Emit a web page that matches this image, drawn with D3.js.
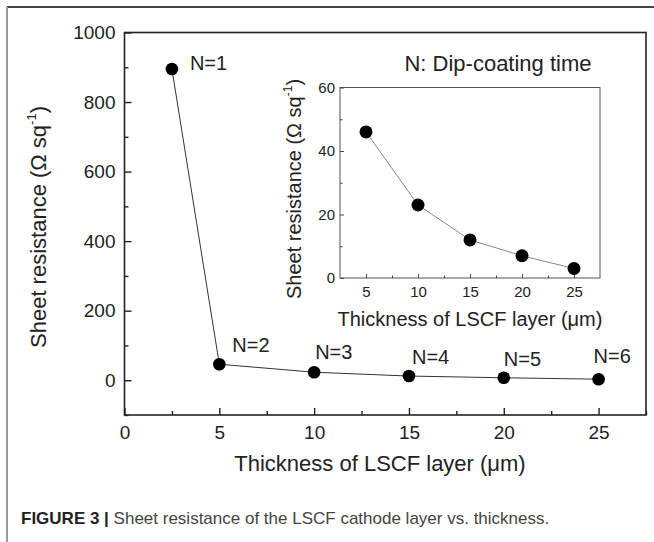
<!DOCTYPE html>
<html>
<head>
<meta charset="utf-8">
<script src="https://cdn.jsdelivr.net/npm/d3@7"></script>
<style>
  body { margin: 0; background: #fff; }
  svg { display: block; font-family: "Liberation Sans", Arial, sans-serif; }
  .tick text { fill: #222; }
</style>
</head>
<body>
<div id="chart"></div>
<script>
// main plot data
var thickness = [2.5, 5, 10, 15, 20, 25];
var resistance = [895, 46, 23, 12, 7, 3];
var pointLabels = ["N=1", "N=2", "N=3", "N=4", "N=5", "N=6"];
// inset data
var insetThickness = [5, 10, 15, 20, 25];
var insetResistance = [46, 23, 12, 7, 3];

var xTicks = [0, 5, 10, 15, 20, 25];
var yTicks = [0, 200, 400, 600, 800, 1000];
var insetXTicks = [5, 10, 15, 20, 25];
var insetYTicks = [0, 20, 40, 60];

var W = 654, H = 542;
var svg = d3.select("#chart").append("svg").attr("width", W).attr("height", H);

// outer frame (top and left only)
svg.append("line").attr("x1", 7).attr("y1", 7).attr("x2", W).attr("y2", 7)
   .attr("stroke", "#444").attr("stroke-width", 2);
svg.append("line").attr("x1", 7).attr("y1", 7).attr("x2", 7).attr("y2", H)
   .attr("stroke", "#999").attr("stroke-width", 2);

// ---- main plot ----
var m = {left: 124.5, top: 32.5, right: 646, bottom: 415};
var x = d3.scaleLinear().domain([0, 27.5]).range([m.left, m.right]);
var y = d3.scaleLinear().domain([-100, 1000]).range([m.bottom, m.top]);

var g = svg.append("g");
g.append("rect").attr("x", m.left).attr("y", m.top)
 .attr("width", m.right - m.left).attr("height", m.bottom - m.top)
 .attr("fill", "none").attr("stroke", "#222").attr("stroke-width", 1.6);

function minor(lo, hi, step) { return d3.range(lo, hi + 1e-9, step); }

// ticks point inward
var xAxis = g.append("g").attr("transform", "translate(0," + m.bottom + ")")
  .call(d3.axisBottom(x).tickValues(xTicks).tickSize(-7).tickPadding(11).tickFormat(d3.format("d")));
xAxis.selectAll("text").attr("font-size", 19);
g.append("g").attr("transform", "translate(0," + m.bottom + ")")
  .call(d3.axisBottom(x).tickValues(minor(2.5, 27.5, 5)).tickSize(-4).tickFormat(""));

var yAxis = g.append("g").attr("transform", "translate(" + m.left + ",0)")
  .call(d3.axisLeft(y).tickValues(yTicks).tickSize(-7).tickPadding(9).tickFormat(d3.format("d")));
yAxis.selectAll("text").attr("font-size", 19);
g.append("g").attr("transform", "translate(" + m.left + ",0)")
  .call(d3.axisLeft(y).tickValues(minor(100, 900, 200).concat([-100])).tickSize(-4).tickFormat(""));

g.selectAll(".domain").remove();
g.selectAll(".tick line").attr("stroke", "#222").attr("stroke-width", 1.4);

// axis titles
g.append("text").attr("x", 380).attr("y", 471).attr("text-anchor", "middle")
 .attr("font-size", 22).attr("fill", "#222").text("Thickness of LSCF layer (\u03bcm)");
var yt = g.append("text").attr("transform", "translate(46,227) rotate(-90)")
 .attr("text-anchor", "middle").attr("font-size", 22).attr("fill", "#222");
yt.append("tspan").text("Sheet resistance (\u03a9 sq");
yt.append("tspan").attr("font-size", 13).attr("dy", -10).text("-1");
yt.append("tspan").attr("dy", 10).text(")");

var line = d3.line().x(function(d) { return x(d[0]); }).y(function(d) { return y(d[1]); });
var pts = d3.zip(thickness, resistance);
g.append("path").datum(pts).attr("d", line)
 .attr("fill", "none").attr("stroke", "#333").attr("stroke-width", 1);
g.selectAll("circle.main").data(pts).enter().append("circle").attr("class", "main")
 .attr("cx", function(d) { return x(d[0]); }).attr("cy", function(d) { return y(d[1]); })
 .attr("r", 6.3).attr("fill", "#000");

// point labels, offset from each marker (left edge, baseline)
var labelDx = [18, 13, 1, 3, 0, -5];
var labelDy = [1, -12, -13, -12, -12, -16];
g.selectAll("text.nlab").data(pts).enter().append("text").attr("class", "nlab")
 .attr("x", function(d, i) { return x(d[0]) + labelDx[i]; })
 .attr("y", function(d, i) { return y(d[1]) + labelDy[i]; })
 .attr("font-size", 20).attr("fill", "#222")
 .text(function(d, i) { return pointLabels[i]; });

g.append("text").attr("x", 498).attr("y", 71).attr("text-anchor", "middle")
 .attr("font-size", 22).attr("fill", "#222").text("N: Dip-coating time");

// ---- inset ----
var n = {left: 340, top: 87.5, right: 600, bottom: 278};
var ix = d3.scaleLinear().domain([2.5, 27.5]).range([n.left, n.right]);
var iy = d3.scaleLinear().domain([0, 60]).range([n.bottom, n.top]);
var ig = svg.append("g");
ig.append("rect").attr("x", n.left).attr("y", n.top)
  .attr("width", n.right - n.left).attr("height", n.bottom - n.top)
  .attr("fill", "none").attr("stroke", "#555").attr("stroke-width", 1);

var ixa = ig.append("g").attr("transform", "translate(0," + n.bottom + ")")
  .call(d3.axisBottom(ix).tickValues(insetXTicks).tickSize(-4).tickPadding(8));
ixa.selectAll("text").attr("font-size", 15);
ig.append("g").attr("transform", "translate(0," + n.bottom + ")")
  .call(d3.axisBottom(ix).tickValues(minor(7.5, 22.5, 5)).tickSize(-2.5).tickFormat(""));
var iya = ig.append("g").attr("transform", "translate(" + n.left + ",0)")
  .call(d3.axisLeft(iy).tickValues(insetYTicks).tickSize(-4).tickPadding(5));
iya.selectAll("text").attr("font-size", 15);
ig.append("g").attr("transform", "translate(" + n.left + ",0)")
  .call(d3.axisLeft(iy).tickValues(minor(10, 50, 20)).tickSize(-2.5).tickFormat(""));
ig.selectAll(".domain").remove();
ig.selectAll(".tick line").attr("stroke", "#444").attr("stroke-width", 1);

ig.append("text").attr("x", 470).attr("y", 326).attr("text-anchor", "middle")
  .attr("font-size", 20).attr("fill", "#222").text("Thickness of LSCF layer (\u03bcm)");
var iyt = ig.append("text").attr("transform", "translate(301,189) rotate(-90)")
  .attr("text-anchor", "middle").attr("font-size", 20).attr("fill", "#222");
iyt.append("tspan").text("Sheet resistance (\u03a9 sq");
iyt.append("tspan").attr("font-size", 12).attr("dy", -9).text("-1");
iyt.append("tspan").attr("dy", 9).text(")");

var iline = d3.line().x(function(d) { return ix(d[0]); }).y(function(d) { return iy(d[1]); });
var ipts = d3.zip(insetThickness, insetResistance);
ig.append("path").datum(ipts).attr("d", iline)
  .attr("fill", "none").attr("stroke", "#888").attr("stroke-width", 1);
ig.selectAll("circle").data(ipts).enter().append("circle")
  .attr("cx", function(d) { return ix(d[0]); }).attr("cy", function(d) { return iy(d[1]); })
  .attr("r", 6.5).attr("fill", "#000");

// ---- caption ----
var cap = svg.append("text").attr("x", 21).attr("y", 524)
  .attr("font-family", "'Liberation Sans Narrow', 'Liberation Sans', Arial, sans-serif")
  .attr("font-size", 17);
cap.append("tspan").attr("font-weight", "bold").attr("fill", "#222").text("FIGURE 3 | ");
cap.append("tspan").attr("fill", "#444").text("Sheet resistance of the LSCF cathode layer vs. thickness.");
</script>
</body>
</html>
